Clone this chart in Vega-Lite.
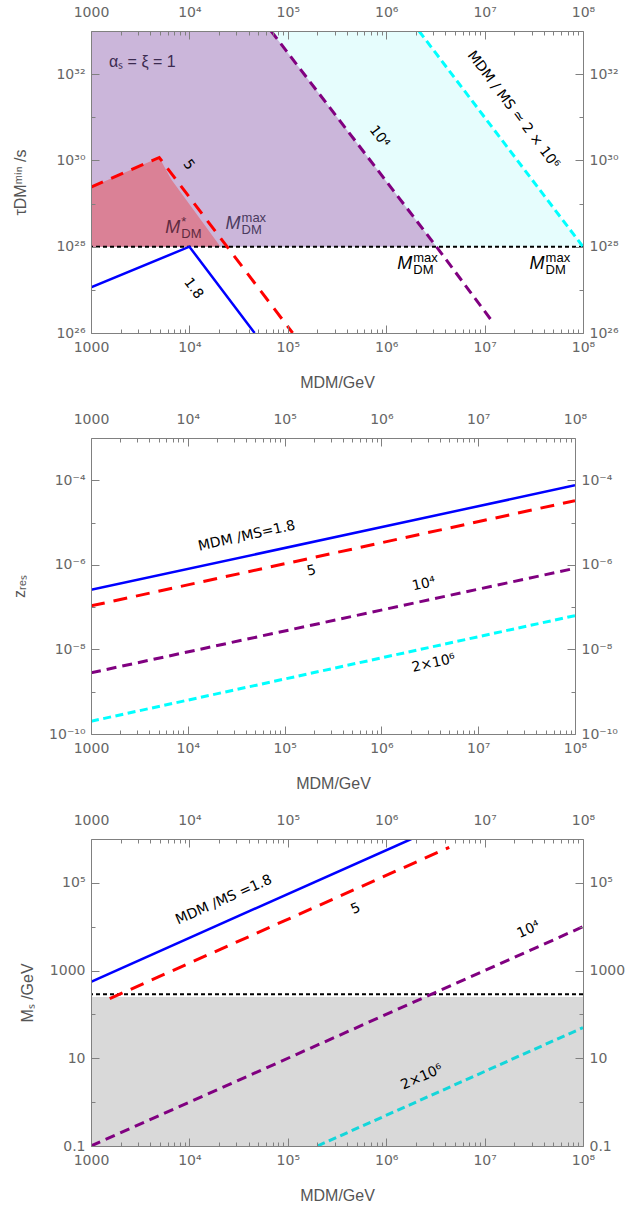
{
  "$schema": "https://vega.github.io/schema/vega-lite/v6.json",
  "padding": {"left": 11, "top": 5, "right": 0, "bottom": 0},
  "spacing": 22,
  "columns": 1,
  "align": "none",
  "config": {
    "font": "Liberation Sans",
    "view": {"stroke": null},
    "axis": {
      "grid": false, "domainColor": "#808080", "tickColor": "#808080",
      "labelColor": "#666666", "labelFont": "DejaVu Sans", "labelFontSize": 14,
      "titleFont": "Liberation Sans", "titleFontSize": 16, "titleColor": "#555555",
      "titleFontWeight": "normal", "labelFlush": false, "labelOverlap": false
    }
  },
  "datasets": {
    "cyanFill1": [{"M": 1000, "t": 1e33}, {"M": 2154000, "t": 1e33}, {"M": 100000000, "t": 1e28}],
    "purpleFill1": [{"M": 1000, "t": 1e33}, {"M": 67600, "t": 1e33}, {"M": 3240000, "t": 1e28}],
    "redFill1": [{"M": 1000, "t": 2.4e29}, {"M": 4940, "t": 1.17e30}, {"M": 6550, "t": 3.6e29}, {"M": 20700, "t": 1e28}],
    "dot1": [{"t": 1e28}],
    "blue1": [{"M": 1000, "t": 1.15e27}, {"M": 10000, "t": 1e28}, {"M": 46000, "t": 1e26}],
    "red1": [{"M": 1000, "t": 2.4e29}, {"M": 4940, "t": 1.17e30}, {"M": 112000, "t": 1e26}],
    "purple1": [{"M": 67600, "t": 1e33}, {"M": 3240000, "t": 1e28}, {"M": 12300000, "t": 1.7e26}],
    "cyan1": [{"M": 2154000, "t": 1e33}, {"M": 100000000, "t": 1e28}],
    "labels1": [
      {"M": 9800, "t": 7.9e29, "txt": "5"},
      {"M": 11000, "t": 1.07e27, "txt": "1.8"},
      {"M": 851000, "t": 3.55e30, "txt": "10⁴"},
      {"M": 19500000, "t": 1.48e31, "txt": "MDM / MS ≃ 2 × 10⁶"}
    ],
    "alpha1": [{"M": 1520, "t": 1.9e32, "txt": "αₛ = ξ = 1"}],
    "mlabels1": [
      {"M": 8090, "t": 2.75e28, "tone": "red", "sup": "*", "sub": "DM"},
      {"M": 33100, "t": 3.38e28, "tone": "purple", "sup": "max", "sub": "DM"},
      {"M": 1840000, "t": 3.89e27, "tone": "black", "sup": "max", "sub": "DM"},
      {"M": 40700000, "t": 3.89e27, "tone": "black", "sup": "max", "sub": "DM"}
    ],
    "frame1": [{"M": 1000, "t": 1e26}, {"M": 100000000, "t": 1e33}],
    "blue2": [{"M": 1000, "z": 2.57e-7}, {"M": 100000000, "z": 7.6e-5}],
    "red2": [{"M": 1000, "z": 1.07e-7}, {"M": 100000000, "z": 3.3e-5}],
    "purple2": [{"M": 1000, "z": 2.8e-9}, {"M": 100000000, "z": 8.3e-7}],
    "cyan2": [{"M": 1000, "z": 2.0e-10}, {"M": 100000000, "z": 6.3e-8}],
    "labels2": [
      {"M": 40700, "z": 4.8e-6, "txt": "MDM /MS=1.8"},
      {"M": 190000, "z": 7.2e-7, "txt": "5"},
      {"M": 2750000, "z": 3.5e-7, "txt": "10⁴"},
      {"M": 3470000, "z": 4.7e-9, "txt": "2×10⁶"}
    ],
    "frame2": [{"M": 1000, "z": 1e-10}, {"M": 100000000, "z": 1e-3}],
    "gray3": [{"M": 1000, "s": 250}, {"M": 100000000, "s": 250}],
    "dot3": [{"s": 290}],
    "blue3": [{"M": 1000, "s": 556}, {"M": 1800000, "s": 1000000}],
    "red3": [{"M": 1550, "s": 229}, {"M": 4370000, "s": 646000}],
    "purple3": [{"M": 1000, "s": 0.1}, {"M": 100000000, "s": 10000}],
    "cyan3": [{"M": 200000, "s": 0.1}, {"M": 100000000, "s": 50}],
    "labels3": [
      {"M": 22400, "s": 40700, "txt": "MDM /MS =1.8"},
      {"M": 490000, "s": 25700, "txt": "5"},
      {"M": 28000000, "s": 8500, "txt": "10⁴"},
      {"M": 2300000, "s": 3.7, "txt": "2×10⁶"}
    ],
    "frame3": [{"M": 1000, "s": 0.1}, {"M": 100000000, "s": 1000000}]
  },
  "concat": [
    {
      "width": 492, "height": 302,
      "resolve": {"axis": {"x": "independent", "y": "independent"}},
      "encoding": {
        "x": {"field": "M", "type": "quantitative", "scale": {"type": "log", "domain": [1000, 100000000], "nice": false}, "axis": null},
        "y": {"field": "t", "type": "quantitative", "scale": {"type": "log", "domain": [1e26, 1e33], "nice": false}, "axis": null}
      },
      "layer": [
        {"data": {"name": "cyanFill1"}, "mark": {"type": "area", "color": "#e6fdfd", "clip": true}, "encoding": {"y2": {"datum": 1e28}}},
        {"data": {"name": "purpleFill1"}, "mark": {"type": "area", "color": "#cbb6da", "clip": true}, "encoding": {"y2": {"datum": 1e28}}},
        {"data": {"name": "redFill1"}, "mark": {"type": "area", "color": "#da8196", "clip": true}, "encoding": {"y2": {"datum": 1e28}}},
        {"data": {"name": "dot1"}, "mark": {"type": "rule", "color": "#000000", "strokeDash": [4, 3], "strokeWidth": 2}, "encoding": {"x": null}},
        {"data": {"name": "blue1"}, "mark": {"type": "line", "color": "#0000ff", "strokeWidth": 2.5, "clip": true}},
        {"data": {"name": "red1"}, "mark": {"type": "line", "color": "#ff0000", "strokeWidth": 3, "strokeDash": [13, 9], "clip": true}},
        {"data": {"name": "purple1"}, "mark": {"type": "line", "color": "#800080", "strokeWidth": 3, "strokeDash": [10, 6], "clip": true}},
        {"data": {"name": "cyan1"}, "mark": {"type": "line", "color": "#00ffff", "strokeWidth": 3, "strokeDash": [8, 4.5], "clip": true}},
        {"data": {"name": "labels1"}, "mark": {"type": "text", "angle": 53, "font": "DejaVu Sans", "fontSize": 14, "color": "#000000"}, "encoding": {"text": {"field": "txt"}}},
        {"data": {"name": "alpha1"}, "mark": {"type": "text", "align": "left", "fontSize": 16, "color": "#3c2b50"}, "encoding": {"text": {"field": "txt"}}},
        {"data": {"name": "mlabels1"}, "mark": {"type": "text", "align": "right", "fontSize": 18, "fontStyle": "italic"},
          "encoding": {"text": {"value": "M"}, "color": {"field": "tone", "type": "nominal", "scale": {"domain": ["red", "purple", "black"], "range": ["#5e2a40", "#4a3a5e", "#000000"]}, "legend": null}}},
        {"data": {"name": "mlabels1"}, "mark": {"type": "text", "align": "left", "fontSize": 13, "dx": 1, "dy": -6},
          "encoding": {"text": {"field": "sup"}, "color": {"field": "tone", "type": "nominal", "scale": {"domain": ["red", "purple", "black"], "range": ["#5e2a40", "#4a3a5e", "#000000"]}, "legend": null}}},
        {"data": {"name": "mlabels1"}, "mark": {"type": "text", "align": "left", "fontSize": 13, "dx": 1, "dy": 6},
          "encoding": {"text": {"field": "sub"}, "color": {"field": "tone", "type": "nominal", "scale": {"domain": ["red", "purple", "black"], "range": ["#5e2a40", "#4a3a5e", "#000000"]}, "legend": null}}},
        {"data": {"name": "frame1"}, "mark": {"type": "point", "opacity": 0},
          "encoding": {
            "x": {"field": "M", "type": "quantitative", "axis": {"orient": "bottom", "values": [1000, 10000, 100000, 1000000, 10000000, 100000000], "labelExpr": "datum.value < 5000 ? '1000' : '10' + ['⁰','¹','²','³','⁴','⁵','⁶','⁷','⁸','⁹'][round(log(datum.value)/LN10)]", "tickSize": -8, "labelPadding": 15, "domain": true, "title": "MDM/GeV", "titlePadding": 16, "minExtent": 25, "maxExtent": 25, "zindex": 1}},
            "y": {"field": "t", "type": "quantitative", "axis": {"orient": "left", "values": [1e26, 1e28, 1e30, 1e32], "labelExpr": "'10' + (round(log(datum.value)/LN10) == 26 ? '²⁶' : round(log(datum.value)/LN10) == 28 ? '²⁸' : round(log(datum.value)/LN10) == 30 ? '³⁰' : '³²')", "tickSize": -8, "labelPadding": 14, "domain": true, "title": "τDMᵐⁱⁿ /s", "titlePadding": 13, "minExtent": 50, "maxExtent": 50, "zindex": 1}}
          }},
        {"data": {"name": "frame1"}, "mark": {"type": "point", "opacity": 0},
          "encoding": {
            "x": {"field": "M", "type": "quantitative", "axis": {"orient": "top", "values": [1000, 10000, 100000, 1000000, 10000000, 100000000], "labelExpr": "datum.value < 5000 ? '1000' : '10' + ['⁰','¹','²','³','⁴','⁵','⁶','⁷','⁸','⁹'][round(log(datum.value)/LN10)]", "tickSize": -8, "labelPadding": 20, "domain": true, "title": null, "zindex": 1}},
            "y": {"field": "t", "type": "quantitative", "axis": {"orient": "right", "values": [1e26, 1e28, 1e30, 1e32], "labelExpr": "'10' + (round(log(datum.value)/LN10) == 26 ? '²⁶' : round(log(datum.value)/LN10) == 28 ? '²⁸' : round(log(datum.value)/LN10) == 30 ? '³⁰' : '³²')", "tickSize": -8, "labelPadding": 14, "domain": true, "title": null, "zindex": 1}}
          }},
        {"data": {"name": "frame1"}, "mark": {"type": "point", "opacity": 0},
          "encoding": {
            "x": {"field": "M", "type": "quantitative", "axis": {"orient": "bottom", "values": [2000, 3000, 4000, 5000, 6000, 7000, 8000, 9000, 20000, 30000, 40000, 50000, 60000, 70000, 80000, 90000, 200000, 300000, 400000, 500000, 600000, 700000, 800000, 900000, 2000000, 3000000, 4000000, 5000000, 6000000, 7000000, 8000000, 9000000, 20000000, 30000000, 40000000, 50000000, 60000000, 70000000, 80000000, 90000000], "labels": false, "tickSize": -4, "domain": false, "title": null, "zindex": 1}},
            "y": {"field": "t", "type": "quantitative", "axis": {"orient": "left", "values": [1e27, 1e29, 1e31], "labels": false, "tickSize": -4, "domain": false, "title": null, "zindex": 1}}
          }},
        {"data": {"name": "frame1"}, "mark": {"type": "point", "opacity": 0},
          "encoding": {
            "x": {"field": "M", "type": "quantitative", "axis": {"orient": "top", "values": [2000, 3000, 4000, 5000, 6000, 7000, 8000, 9000, 20000, 30000, 40000, 50000, 60000, 70000, 80000, 90000, 200000, 300000, 400000, 500000, 600000, 700000, 800000, 900000, 2000000, 3000000, 4000000, 5000000, 6000000, 7000000, 8000000, 9000000, 20000000, 30000000, 40000000, 50000000, 60000000, 70000000, 80000000, 90000000], "labels": false, "tickSize": -4, "domain": false, "title": null, "zindex": 1}},
            "y": {"field": "t", "type": "quantitative", "axis": {"orient": "right", "values": [1e27, 1e29, 1e31], "labels": false, "tickSize": -4, "domain": false, "title": null, "zindex": 1}}
          }}
      ]
    },
    {
      "width": 484, "height": 296,
      "resolve": {"axis": {"x": "independent", "y": "independent"}},
      "encoding": {
        "x": {"field": "M", "type": "quantitative", "scale": {"type": "log", "domain": [1000, 100000000], "nice": false}, "axis": null},
        "y": {"field": "z", "type": "quantitative", "scale": {"type": "log", "domain": [1e-10, 1e-3], "nice": false}, "axis": null}
      },
      "layer": [
        {"data": {"name": "blue2"}, "mark": {"type": "line", "color": "#0000ff", "strokeWidth": 2.5, "clip": true}},
        {"data": {"name": "red2"}, "mark": {"type": "line", "color": "#ff0000", "strokeWidth": 3, "strokeDash": [14, 9], "clip": true}},
        {"data": {"name": "purple2"}, "mark": {"type": "line", "color": "#800080", "strokeWidth": 3, "strokeDash": [10, 6], "clip": true}},
        {"data": {"name": "cyan2"}, "mark": {"type": "line", "color": "#00ffff", "strokeWidth": 3, "strokeDash": [8, 4.5], "clip": true}},
        {"data": {"name": "labels2"}, "mark": {"type": "text", "angle": -12.5, "font": "DejaVu Sans", "fontSize": 14, "color": "#000000"}, "encoding": {"text": {"field": "txt"}}},
        {"data": {"name": "frame2"}, "mark": {"type": "point", "opacity": 0},
          "encoding": {
            "x": {"field": "M", "type": "quantitative", "axis": {"orient": "bottom", "values": [1000, 10000, 100000, 1000000, 10000000, 100000000], "labelExpr": "datum.value < 5000 ? '1000' : '10' + ['⁰','¹','²','³','⁴','⁵','⁶','⁷','⁸','⁹'][round(log(datum.value)/LN10)]", "tickSize": -8, "labelPadding": 15, "domain": true, "title": "MDM/GeV", "titlePadding": 16, "minExtent": 25, "maxExtent": 25, "zindex": 1}},
            "y": {"field": "z", "type": "quantitative", "axis": {"orient": "left", "values": [1e-10, 1e-8, 1e-6, 1e-4], "labelExpr": "'10' + (round(log(datum.value)/LN10) == -4 ? '⁻⁴' : round(log(datum.value)/LN10) == -6 ? '⁻⁶' : round(log(datum.value)/LN10) == -8 ? '⁻⁸' : '⁻¹⁰')", "tickSize": -8, "labelPadding": 14, "domain": true, "title": "zᵣₑₛ", "titlePadding": 12, "minExtent": 52, "maxExtent": 52, "zindex": 1}}
          }},
        {"data": {"name": "frame2"}, "mark": {"type": "point", "opacity": 0},
          "encoding": {
            "x": {"field": "M", "type": "quantitative", "axis": {"orient": "top", "values": [1000, 10000, 100000, 1000000, 10000000, 100000000], "labelExpr": "datum.value < 5000 ? '1000' : '10' + ['⁰','¹','²','³','⁴','⁵','⁶','⁷','⁸','⁹'][round(log(datum.value)/LN10)]", "tickSize": -8, "labelPadding": 20, "domain": true, "title": null, "zindex": 1}},
            "y": {"field": "z", "type": "quantitative", "axis": {"orient": "right", "values": [1e-10, 1e-8, 1e-6, 1e-4], "labelExpr": "'10' + (round(log(datum.value)/LN10) == -4 ? '⁻⁴' : round(log(datum.value)/LN10) == -6 ? '⁻⁶' : round(log(datum.value)/LN10) == -8 ? '⁻⁸' : '⁻¹⁰')", "tickSize": -8, "labelPadding": 14, "domain": true, "title": null, "zindex": 1}}
          }},
        {"data": {"name": "frame2"}, "mark": {"type": "point", "opacity": 0},
          "encoding": {
            "x": {"field": "M", "type": "quantitative", "axis": {"orient": "bottom", "values": [2000, 3000, 4000, 5000, 6000, 7000, 8000, 9000, 20000, 30000, 40000, 50000, 60000, 70000, 80000, 90000, 200000, 300000, 400000, 500000, 600000, 700000, 800000, 900000, 2000000, 3000000, 4000000, 5000000, 6000000, 7000000, 8000000, 9000000, 20000000, 30000000, 40000000, 50000000, 60000000, 70000000, 80000000, 90000000], "labels": false, "tickSize": -4, "domain": false, "title": null, "zindex": 1}},
            "y": {"field": "z", "type": "quantitative", "axis": {"orient": "left", "values": [1e-9, 1e-7, 1e-5], "labels": false, "tickSize": -4, "domain": false, "title": null, "zindex": 1}}
          }},
        {"data": {"name": "frame2"}, "mark": {"type": "point", "opacity": 0},
          "encoding": {
            "x": {"field": "M", "type": "quantitative", "axis": {"orient": "top", "values": [2000, 3000, 4000, 5000, 6000, 7000, 8000, 9000, 20000, 30000, 40000, 50000, 60000, 70000, 80000, 90000, 200000, 300000, 400000, 500000, 600000, 700000, 800000, 900000, 2000000, 3000000, 4000000, 5000000, 6000000, 7000000, 8000000, 9000000, 20000000, 30000000, 40000000, 50000000, 60000000, 70000000, 80000000, 90000000], "labels": false, "tickSize": -4, "domain": false, "title": null, "zindex": 1}},
            "y": {"field": "z", "type": "quantitative", "axis": {"orient": "right", "values": [1e-9, 1e-7, 1e-5], "labels": false, "tickSize": -4, "domain": false, "title": null, "zindex": 1}}
          }}
      ]
    },
    {
      "width": 492, "height": 307,
      "resolve": {"axis": {"x": "independent", "y": "independent"}},
      "encoding": {
        "x": {"field": "M", "type": "quantitative", "scale": {"type": "log", "domain": [1000, 100000000], "nice": false}, "axis": null},
        "y": {"field": "s", "type": "quantitative", "scale": {"type": "log", "domain": [0.1, 1000000], "nice": false}, "axis": null}
      },
      "layer": [
        {"data": {"name": "gray3"}, "mark": {"type": "area", "color": "#d9d9d9", "clip": true}, "encoding": {"y2": {"datum": 0.1}}},
        {"data": {"name": "dot3"}, "mark": {"type": "rule", "color": "#000000", "strokeDash": [4, 3], "strokeWidth": 2}, "encoding": {"x": null}},
        {"data": {"name": "blue3"}, "mark": {"type": "line", "color": "#0000ff", "strokeWidth": 2.5, "clip": true}},
        {"data": {"name": "red3"}, "mark": {"type": "line", "color": "#ff0000", "strokeWidth": 3, "strokeDash": [14, 9], "clip": true}},
        {"data": {"name": "purple3"}, "mark": {"type": "line", "color": "#800080", "strokeWidth": 3, "strokeDash": [10, 6], "clip": true}},
        {"data": {"name": "cyan3"}, "mark": {"type": "line", "color": "#14d6da", "strokeWidth": 3, "strokeDash": [8, 4.5], "clip": true}},
        {"data": {"name": "labels3"}, "mark": {"type": "text", "angle": -23.8, "font": "DejaVu Sans", "fontSize": 14, "color": "#000000"}, "encoding": {"text": {"field": "txt"}}},
        {"data": {"name": "frame3"}, "mark": {"type": "point", "opacity": 0},
          "encoding": {
            "x": {"field": "M", "type": "quantitative", "axis": {"orient": "bottom", "values": [1000, 10000, 100000, 1000000, 10000000, 100000000], "labelExpr": "datum.value < 5000 ? '1000' : '10' + ['⁰','¹','²','³','⁴','⁵','⁶','⁷','⁸','⁹'][round(log(datum.value)/LN10)]", "tickSize": -8, "labelPadding": 15, "domain": true, "title": "MDM/GeV", "titlePadding": 16, "minExtent": 25, "maxExtent": 25, "zindex": 1}},
            "y": {"field": "s", "type": "quantitative", "axis": {"orient": "left", "values": [0.1, 10, 1000, 100000], "labelExpr": "datum.value < 1 ? '0.1' : datum.value < 100 ? '10' : datum.value < 10000 ? '1000' : '10⁵'", "tickSize": -8, "labelPadding": 14, "domain": true, "title": "Mₛ /GeV", "titlePadding": 11, "minExtent": 45, "maxExtent": 45, "zindex": 1}}
          }},
        {"data": {"name": "frame3"}, "mark": {"type": "point", "opacity": 0},
          "encoding": {
            "x": {"field": "M", "type": "quantitative", "axis": {"orient": "top", "values": [1000, 10000, 100000, 1000000, 10000000, 100000000], "labelExpr": "datum.value < 5000 ? '1000' : '10' + ['⁰','¹','²','³','⁴','⁵','⁶','⁷','⁸','⁹'][round(log(datum.value)/LN10)]", "tickSize": -8, "labelPadding": 20, "domain": true, "title": null, "zindex": 1}},
            "y": {"field": "s", "type": "quantitative", "axis": {"orient": "right", "values": [0.1, 10, 1000, 100000], "labelExpr": "datum.value < 1 ? '0.1' : datum.value < 100 ? '10' : datum.value < 10000 ? '1000' : '10⁵'", "tickSize": -8, "labelPadding": 14, "domain": true, "title": null, "zindex": 1}}
          }},
        {"data": {"name": "frame3"}, "mark": {"type": "point", "opacity": 0},
          "encoding": {
            "x": {"field": "M", "type": "quantitative", "axis": {"orient": "bottom", "values": [2000, 3000, 4000, 5000, 6000, 7000, 8000, 9000, 20000, 30000, 40000, 50000, 60000, 70000, 80000, 90000, 200000, 300000, 400000, 500000, 600000, 700000, 800000, 900000, 2000000, 3000000, 4000000, 5000000, 6000000, 7000000, 8000000, 9000000, 20000000, 30000000, 40000000, 50000000, 60000000, 70000000, 80000000, 90000000], "labels": false, "tickSize": -4, "domain": false, "title": null, "zindex": 1}},
            "y": {"field": "s", "type": "quantitative", "axis": {"orient": "left", "values": [1, 100, 10000], "labels": false, "tickSize": -4, "domain": false, "title": null, "zindex": 1}}
          }},
        {"data": {"name": "frame3"}, "mark": {"type": "point", "opacity": 0},
          "encoding": {
            "x": {"field": "M", "type": "quantitative", "axis": {"orient": "top", "values": [2000, 3000, 4000, 5000, 6000, 7000, 8000, 9000, 20000, 30000, 40000, 50000, 60000, 70000, 80000, 90000, 200000, 300000, 400000, 500000, 600000, 700000, 800000, 900000, 2000000, 3000000, 4000000, 5000000, 6000000, 7000000, 8000000, 9000000, 20000000, 30000000, 40000000, 50000000, 60000000, 70000000, 80000000, 90000000], "labels": false, "tickSize": -4, "domain": false, "title": null, "zindex": 1}},
            "y": {"field": "s", "type": "quantitative", "axis": {"orient": "right", "values": [1, 100, 10000], "labels": false, "tickSize": -4, "domain": false, "title": null, "zindex": 1}}
          }}
      ]
    }
  ]
}
